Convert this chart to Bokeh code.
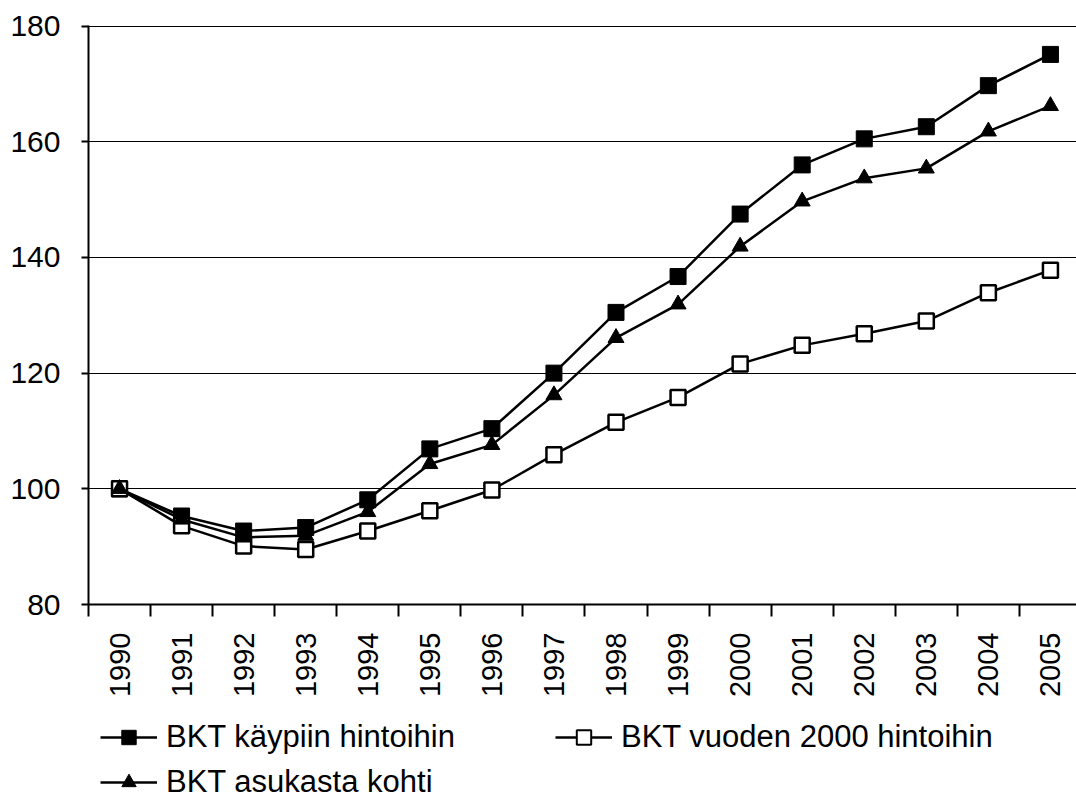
import math
from bokeh.plotting import figure
from bokeh.layouts import column
from bokeh.models import Range1d, FixedTicker, Legend, LegendItem
from bokeh.embed import file_html
from bokeh.resources import INLINE

years = list(range(1990, 2006))
kaypiin = [100.0, 95.3, 92.7, 93.3, 98.1, 106.9, 110.4, 120.0, 130.5, 136.7, 147.5, 156.0, 160.5, 162.6, 169.7, 175.1]
vuoden2000 = [100.0, 93.6, 90.1, 89.5, 92.7, 96.2, 99.8, 105.9, 111.5, 115.8, 121.6, 124.8, 126.8, 129.0, 133.9, 137.8]
asukasta = [100.0, 94.7, 91.6, 91.9, 96.0, 104.3, 107.6, 116.2, 126.1, 131.9, 141.9, 149.7, 153.7, 155.4, 161.8, 166.2]
y_ticks = [80, 100, 120, 140, 160, 180]
labels = ["BKT käypiin hintoihin", "BKT vuoden 2000 hintoihin", "BKT asukasta kohti"]

FONT = "'Liberation Sans', Arial, sans-serif"
W = 1076

p = figure(width=W, height=707, output_backend="svg", toolbar_location=None,
           x_range=Range1d(years[0] - 0.5, years[-1] + 0.42),
           y_range=Range1d(y_ticks[0], y_ticks[-1] + 0.1),
           min_border_left=88, min_border_top=25, min_border_right=0, min_border_bottom=103)
p.outline_line_color = None
p.background_fill_color = "white"

# axes
p.yaxis.ticker = FixedTicker(ticks=y_ticks)
p.yaxis.axis_line_width = 2
p.yaxis.axis_line_color = "black"
p.yaxis.major_tick_out = 7
p.yaxis.major_tick_in = 0
p.yaxis.major_tick_line_width = 2
p.yaxis.minor_tick_line_color = None
p.yaxis.major_label_text_font = FONT
p.yaxis.major_label_text_font_size = "30px"
p.yaxis.major_label_text_color = "black"
p.yaxis.major_label_standoff = 21

minor = [y - 0.5 for y in years]
p.xaxis.ticker = FixedTicker(ticks=years, minor_ticks=minor)
p.xaxis.axis_line_width = 2
p.xaxis.axis_line_color = "black"
p.xaxis.major_tick_out = 0
p.xaxis.major_tick_in = 0
p.xaxis.minor_tick_out = 12
p.xaxis.minor_tick_in = 0
p.xaxis.minor_tick_line_width = 2
p.xaxis.minor_tick_line_color = "black"
p.xaxis.major_label_orientation = math.pi / 2
p.xaxis.major_label_text_font = FONT
p.xaxis.major_label_text_font_size = "29px"
p.xaxis.major_label_text_color = "black"
p.xaxis.major_label_standoff = 16

p.xgrid.grid_line_color = None
p.ygrid.grid_line_color = "black"
p.ygrid.grid_line_width = 1


def series(fig, x, y, marker, size, fill, lw=1):
    ln = fig.line(x, y, line_color="black", line_width=2.5)
    sc = fig.scatter(x, y, marker=marker, size=size, fill_color=fill, line_color="black",
                     line_width=lw)
    return ln, sc


l1, s1 = series(p, years, kaypiin, "square", 16, "black")
l2, s2 = series(p, years, vuoden2000, "square", 15, "white", 2.5)
l3, s3 = series(p, years, asukasta, "triangle", 16, "black")

# legend panel: a separate figure below the chart, holding only the legends
# (its ranges keep the series themselves out of view; only the legend shows)
q = figure(width=W, height=94, output_backend="svg", toolbar_location=None,
           x_axis_type=None, y_axis_type=None, min_border=0,
           x_range=Range1d(0, 1), y_range=Range1d(0, 1))
q.outline_line_color = None
q.xgrid.grid_line_color = None
q.ygrid.grid_line_color = None
m1, n1 = series(q, years, kaypiin, "square", 16, "black")
m2, n2 = series(q, years, vuoden2000, "square", 15, "white", 2)
m3, n3 = series(q, years, asukasta, "triangle", 16, "black")


def style(lg):
    lg.label_text_font = FONT
    lg.label_text_font_size = "31px"
    lg.label_text_color = "black"
    lg.glyph_width = 57
    lg.glyph_height = 36
    lg.label_standoff = 9
    lg.spacing = 9
    lg.padding = 0
    lg.margin = 0
    lg.border_line_color = None
    lg.background_fill_alpha = 0


leg1 = Legend(items=[LegendItem(label=labels[0], renderers=[m1, n1]),
                     LegendItem(label=labels[2], renderers=[m3, n3])],
              location=(12, 1))
leg2 = Legend(items=[LegendItem(label=labels[1], renderers=[m2, n2])],
              location=(467, 46))
style(leg1)
style(leg2)
q.add_layout(leg1)
q.add_layout(leg2)

layout = column(p, q, spacing=0)
open("out.html", "w").write(file_html(layout, INLINE))
